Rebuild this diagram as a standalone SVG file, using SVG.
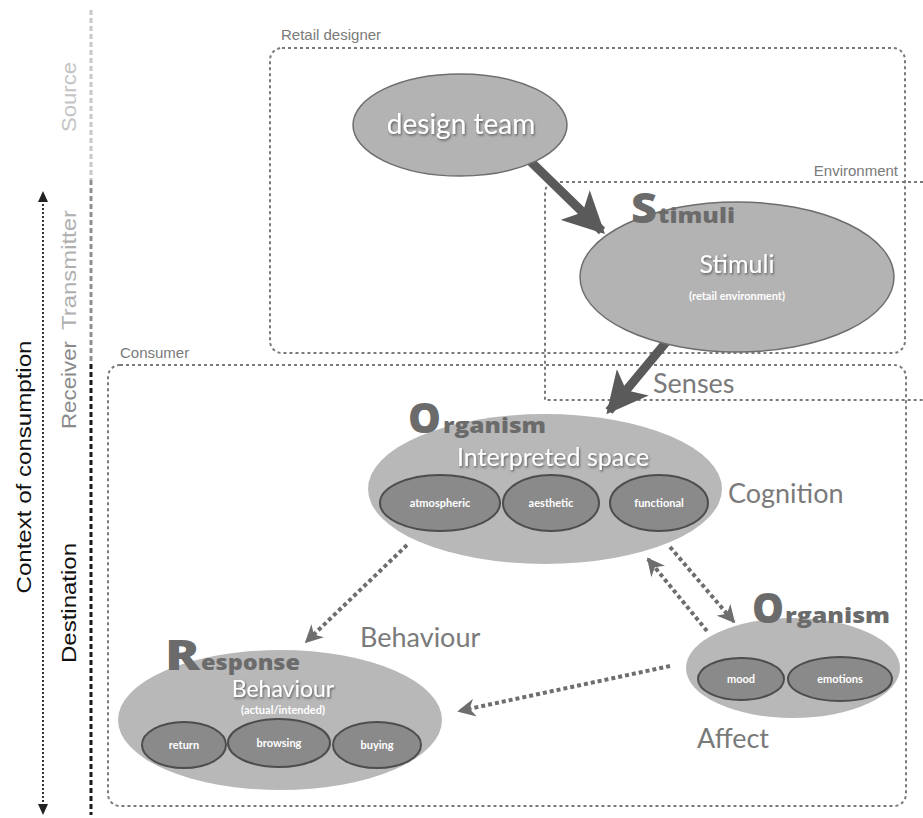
<svg xmlns="http://www.w3.org/2000/svg" width="923" height="818" viewBox="0 0 923 818">
<defs>
<style>
.box{fill:none;stroke:#7a7a7a;stroke-width:2;stroke-dasharray:3 3}
.big{fill:#b3b3b3;stroke:#6e6e6e;stroke-width:1.5}
.sub{fill:#8a8a8a;stroke:#4d4d4d;stroke-width:2}
.wt{fill:#fff;font-family:Lato,"Open Sans",sans-serif;text-anchor:middle;filter:url(#sh)}
.st{fill:#fff;font-family:Lato,"Open Sans",sans-serif;text-anchor:middle;font-size:11px;font-weight:bold}
.lab{fill:#7a7a7a;font-family:"Liberation Sans",Arial,sans-serif;font-size:15px}
.gl{fill:#7a7a7a;font-family:Lato,"Open Sans",sans-serif;font-size:27px}
.cap{fill:#6b6b6b;font-family:"Open Sans",Lato,sans-serif;font-weight:800}
.capL{font-size:42px}
.capS{font-size:21px}
.side{font-family:"Liberation Sans",Arial,sans-serif;font-size:20px;text-anchor:middle}
.thick{stroke:#5a5a5a;stroke-width:9;fill:none}
.dot{stroke:#6e6e6e;stroke-width:4;stroke-dasharray:4 3;fill:none}
</style>
<filter id="sh" x="-10%" y="-20%" width="120%" height="140%">
<feDropShadow dx="1" dy="1.5" stdDeviation="1" flood-color="#444" flood-opacity="0.8"/>
</filter>
<marker id="ah" viewBox="0 0 10 10" refX="9" refY="5" markerWidth="4.6" markerHeight="4.6" orient="auto" markerUnits="strokeWidth">
<path d="M0,0 L10,5 L0,10 L2.5,5 z" fill="#5a5a5a"/>
</marker>
<marker id="dh" viewBox="0 0 10 10" refX="9" refY="5" markerWidth="4.5" markerHeight="4.5" orient="auto" markerUnits="strokeWidth">
<path d="M0,0 L10,5 L0,10 L3,5 z" fill="#6e6e6e"/>
</marker>
</defs>
<rect width="923" height="818" fill="#fff"/>

<g id="side-axis">
<line x1="91" y1="10" x2="91" y2="180" stroke="#c8c8c8" stroke-width="3" stroke-dasharray="5 3"/>
<line x1="91" y1="180" x2="91" y2="364" stroke="#8f8f8f" stroke-width="3" stroke-dasharray="5 3"/>
<line x1="91" y1="364" x2="91" y2="815" stroke="#1a1a1a" stroke-width="3" stroke-dasharray="5 3"/>
<text class="side" transform="translate(76,97) rotate(-90)" fill="#c4c4c4" textLength="70" lengthAdjust="spacingAndGlyphs">Source</text>
<text class="side" transform="translate(76,270) rotate(-90)" fill="#b0b0b0" textLength="120" lengthAdjust="spacingAndGlyphs">Transmitter</text>
<text class="side" transform="translate(76,385) rotate(-90)" fill="#8a8a8a" textLength="88" lengthAdjust="spacingAndGlyphs">Receiver</text>
<text class="side" transform="translate(76,603) rotate(-90)" fill="#111" textLength="120" lengthAdjust="spacingAndGlyphs">Destination</text>
<text class="side" transform="translate(31,467) rotate(-90)" fill="#111" textLength="253" lengthAdjust="spacingAndGlyphs">Context of consumption</text>
<line x1="43" y1="200" x2="43" y2="806" stroke="#333" stroke-width="2" stroke-dasharray="2 2"/>
<path d="M43,191 L38,202 L48,202 z" fill="#222"/>
<path d="M43,815 L38,804 L48,804 z" fill="#222"/>
</g>

<g id="boxes">
<rect class="box" x="270" y="48" width="635" height="305" rx="12"/>
<text class="lab" x="281" y="40">Retail designer</text>
<path class="box" d="M923,182 L557,182 Q545,182 545,194 L545,400 L923,400"/>
<text class="lab" x="898" y="176" text-anchor="end">Environment</text>
<rect class="box" x="108" y="365" width="798" height="441" rx="12"/>
<text class="lab" x="120" y="358">Consumer</text>
</g>

<g id="connectors">
<line class="thick" x1="527" y1="158" x2="602" y2="231" marker-end="url(#ah)"/>
<line class="thick" x1="682" y1="323" x2="609" y2="411" marker-end="url(#ah)"/>
<line class="dot" x1="407" y1="545" x2="306" y2="642" marker-end="url(#dh)"/>
<line class="dot" x1="670" y1="666" x2="459" y2="711" marker-end="url(#dh)"/>
<line class="dot" x1="707" y1="631" x2="648" y2="559" marker-end="url(#dh)"/>
<line class="dot" x1="670" y1="547" x2="734" y2="622" marker-end="url(#dh)"/>
</g>

<g id="design-team">
<ellipse class="big" cx="460" cy="125" rx="107" ry="51"/>
<text class="wt" x="461" y="134" font-size="28">design team</text>
</g>

<g id="stimuli">
<ellipse class="big" cx="737" cy="277" rx="157" ry="75"/>
<text class="wt" x="737" y="273" font-size="25">Stimuli</text>
<text class="st" x="737" y="300" font-size="10">(retail environment)</text>
<text class="cap capL" x="631" y="223" textLength="26" lengthAdjust="spacingAndGlyphs">S</text>
<text class="cap capS" x="658" y="223" textLength="77" lengthAdjust="spacingAndGlyphs">timuli</text>
</g>

<text class="gl" x="653" y="393">Senses</text>

<g id="organism-cognition">
<ellipse cx="545" cy="489" rx="177" ry="75" fill="#b8b8b8"/>
<text class="cap capL" x="408" y="433" textLength="33" lengthAdjust="spacingAndGlyphs">O</text>
<text class="cap capS" x="443" y="433" textLength="103" lengthAdjust="spacingAndGlyphs">rganism</text>
<text class="wt" x="553" y="466" font-size="25">Interpreted space</text>
<ellipse class="sub" cx="440" cy="503" rx="60" ry="28"/>
<text class="st" x="440" y="507">atmospheric</text>
<ellipse class="sub" cx="551" cy="503" rx="48" ry="28"/>
<text class="st" x="551" y="507">aesthetic</text>
<ellipse class="sub" cx="659" cy="503" rx="49" ry="28"/>
<text class="st" x="659" y="507">functional</text>
<text class="gl" x="728" y="503">Cognition</text>
</g>

<g id="organism-affect">
<ellipse cx="793" cy="668" rx="107" ry="50" fill="#b8b8b8"/>
<text class="cap capL" x="752" y="623" textLength="32" lengthAdjust="spacingAndGlyphs">O</text>
<text class="cap capS" x="785" y="623" textLength="105" lengthAdjust="spacingAndGlyphs">rganism</text>
<ellipse class="sub" cx="741" cy="679" rx="43" ry="21"/>
<text class="st" x="741" y="683">mood</text>
<ellipse class="sub" cx="840" cy="679" rx="52" ry="22"/>
<text class="st" x="840" y="683">emotions</text>
<text class="gl" x="697" y="748">Affect</text>
</g>

<g id="response">
<ellipse cx="280" cy="720" rx="162" ry="70" fill="#b8b8b8"/>
<text class="cap capL" x="165" y="670" textLength="35" lengthAdjust="spacingAndGlyphs">R</text>
<text class="cap capS" x="201" y="670" textLength="99" lengthAdjust="spacingAndGlyphs">esponse</text>
<text class="wt" x="283" y="697" font-size="23">Behaviour</text>
<text class="st" x="283" y="714" font-size="10">(actual/intended)</text>
<ellipse class="sub" cx="184" cy="745" rx="42" ry="23"/>
<text class="st" x="184" y="749">return</text>
<ellipse class="sub" cx="279" cy="743" rx="51" ry="24"/>
<text class="st" x="279" y="747">browsing</text>
<ellipse class="sub" cx="377" cy="745" rx="44" ry="23"/>
<text class="st" x="377" y="749">buying</text>
<text class="gl" x="360" y="647">Behaviour</text>
</g>
</svg>
